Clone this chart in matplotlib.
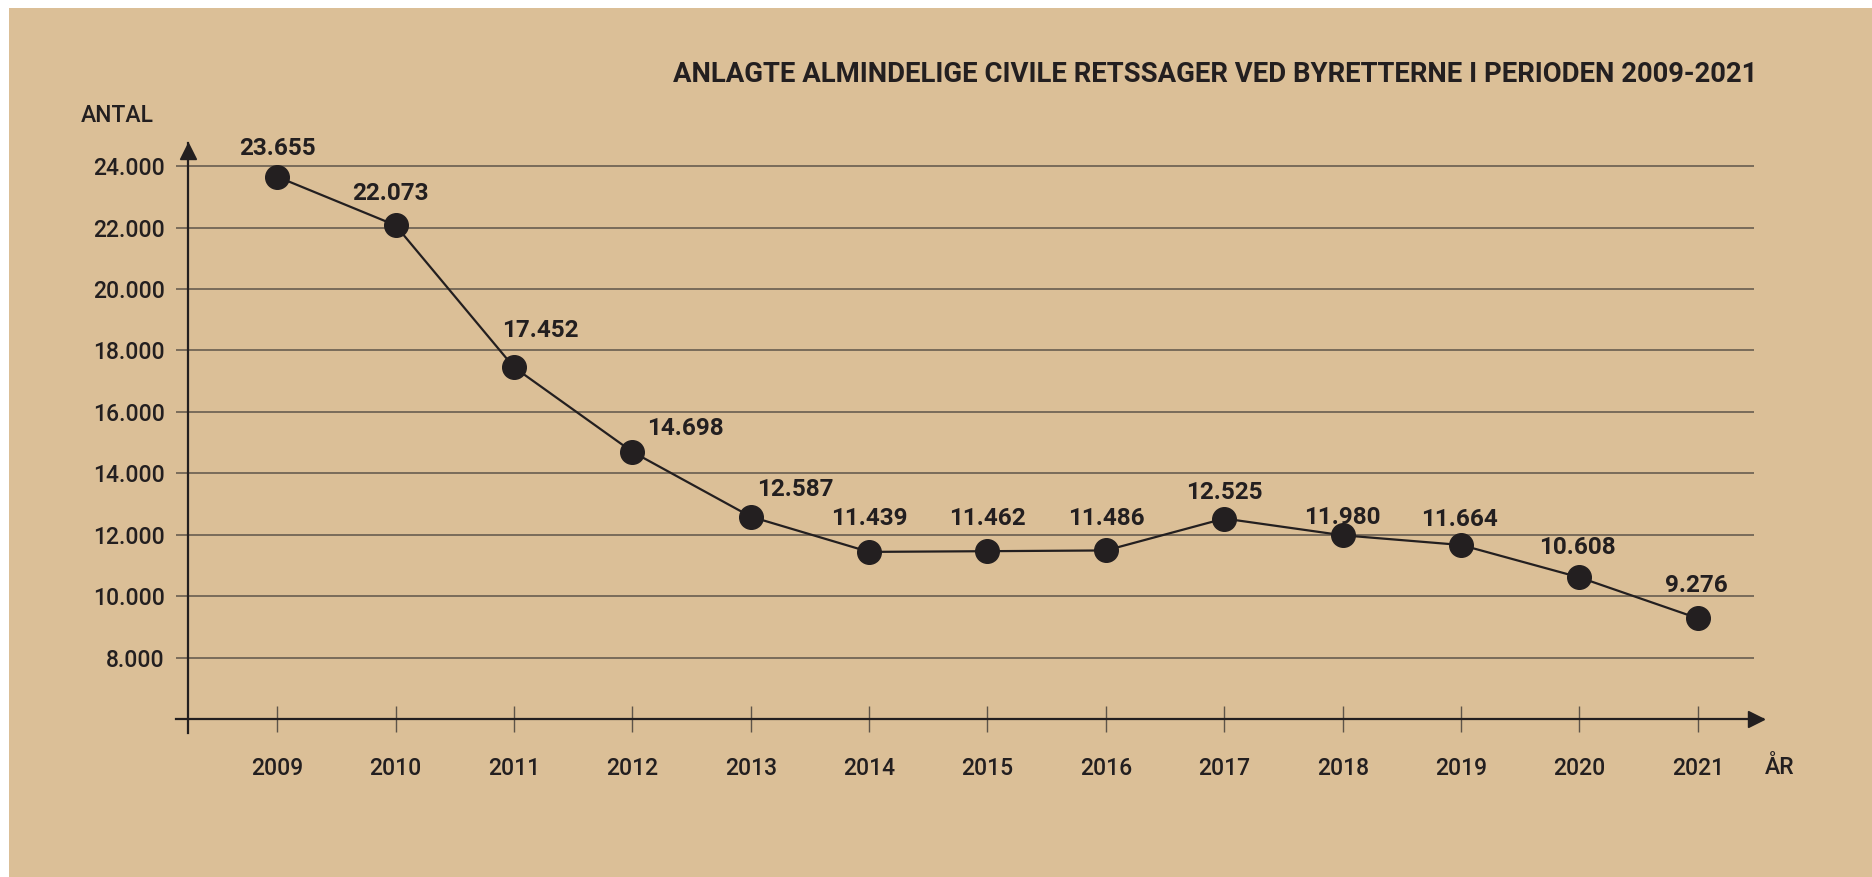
import matplotlib.pyplot as plt
from matplotlib.patches import Rectangle

# -------------------------------------------------------------------
# Data
# -------------------------------------------------------------------
years = [2009, 2010, 2011, 2012, 2013, 2014, 2015, 2016, 2017, 2018, 2019, 2020, 2021]
cases = [23655, 22073, 17452, 14698, 12587, 11439, 11462, 11486, 12525, 11980, 11664, 10608, 9276]
y_ticks = [8000, 10000, 12000, 14000, 16000, 18000, 20000, 22000, 24000]

title = "ANLAGTE ALMINDELIGE CIVILE RETSSAGER VED BYRETTERNE I PERIODEN 2009-2021"

# label offsets in pixels (dx, dy) relative to each point
label_dx = [0, -5, 26, 53, 45, 0, 0, 0, 0, 0, -2, -2, -2]
label_dy = [28, 32, 37, 23, 27, 33, 33, 32, 26, 18, 25, 30, 33]

def fmt(v):
    return "{:,}".format(v).replace(",", ".")

# -------------------------------------------------------------------
# Plotting
# -------------------------------------------------------------------
W, H = 1872, 877
bg = "#dbbf97"
ink = "#231f20"
grid_col = "#5e5449"
font = ["Roboto", "DejaVu Sans"]

figure = plt.figure(figsize=(W / 100, H / 100), dpi=100, facecolor="white")
figure.add_artist(Rectangle((9 / W, 0), 1, 1 - 8 / H, transform=figure.transFigure,
                            facecolor=bg, edgecolor="none", zorder=-10))

left, right, top, bottom = 176, 1763, 143, 733
axis = figure.add_axes([left / W, 1 - bottom / H, (right - left) / W, (bottom - top) / H])
axis.set_zorder(5)
axis.set_facecolor("none")
axis.set_xlim(2008.146, 2021.55)
axis.set_ylim(5542, 24753)

for s in ["top", "right"]:
    axis.spines[s].set_visible(False)
axis.spines["left"].set_position(("data", 2008.25))
axis.spines["bottom"].set_position(("data", 6000))
for s in ["left", "bottom"]:
    axis.spines[s].set_color(ink)
    axis.spines[s].set_linewidth(1.6)

# arrow heads
axis.plot([2008.25], [24500], marker="^", markersize=11, color=ink, clip_on=False)
axis.plot([2021.49], [6000], marker=">", markersize=11, color=ink, clip_on=False)

# gridlines
axis.hlines(y_ticks, 2008.146, 2021.47, color=grid_col, linewidth=1.1, zorder=1)

axis.set_yticks(y_ticks)
axis.set_yticklabels([fmt(v) for v in y_ticks], family=font, fontsize=16.5, color=ink,
                     fontweight="medium")
axis.tick_params(axis="y", length=0, pad=17)
axis.set_xticks(years)
axis.set_xticklabels([str(y) for y in years], family=font, fontsize=16.5, color=ink,
                     fontweight="medium")
axis.tick_params(axis="x", direction="inout", length=19, width=1, color=grid_col, pad=18)

# data line
axis.plot(years, cases, color=ink, linewidth=1.6, marker="o", markersize=17,
          zorder=3, clip_on=False)

for x, v, dx, dy in zip(years, cases, label_dx, label_dy):
    axis.annotate(fmt(v), (x, v), xytext=(dx, dy), textcoords="offset pixels",
                  ha="center", va="center", fontsize=17.5, fontweight="bold",
                  family=font, color=ink)

figure.text(1757 / W, 1 - 74 / H, title, ha="right", va="center", fontsize=19.8,
            fontweight="bold", family=font, color=ink)
figure.text(81 / W, 1 - 115 / H, "ANTAL", ha="left", va="center", fontsize=16.5,
            fontweight="medium", family=font, color=ink)
figure.text(1765 / W, 1 - 767 / H, "ÅR", ha="left", va="center", fontsize=16.5,
            fontweight="medium", family=font, color=ink)

figure.savefig("out.png", dpi=100, facecolor="white")
